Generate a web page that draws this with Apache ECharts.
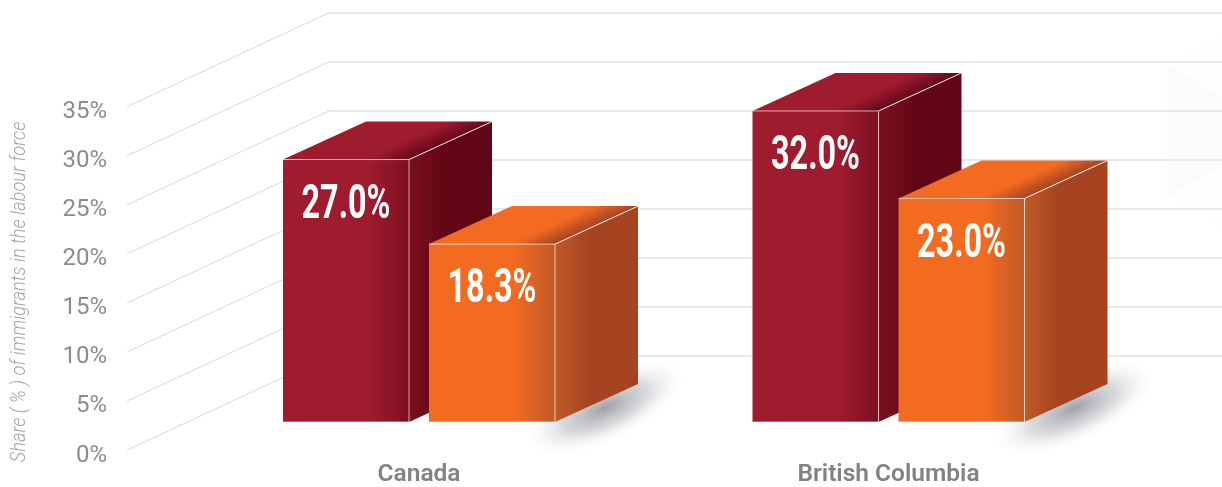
<!DOCTYPE html>
<html>
<head>
<meta charset="utf-8">
<style>html,body{margin:0;padding:0;background:#fff}#chart{width:1222px;height:487px}</style>
<script src="https://cdn.jsdelivr.net/npm/echarts@6/dist/echarts.min.js"></script>
</head>
<body>
<div id="chart"></div>
<script>
var categories = ['Canada', 'British Columbia'];
var redValues = [27.0, 32.0];
var orangeValues = [18.3, 23.0];
var tickValues = [0, 5, 10, 15, 20, 25, 30, 35];
var axisTitle = 'Share ( % ) of immigrants in the labour force';

var redColors = {
	front: '#9f1b2e', frontEnd: '#7c101f',
	sideStart: '#7c101f', sideEnd: '#620716',
	topStart: '#9f1b2e', topEnd: '#64091a'
};
var orangeColors = {
	front: '#f36a21', frontEnd: '#c05a27',
	sideStart: '#c05a27', sideEnd: '#a64421',
	topStart: '#f36a21', topEnd: '#a64421'
};

function grad(x2, y2, stops) {
	return { type: 'linear', x: 0, y: 0, x2: x2, y2: y2, colorStops: stops };
}

// 柱子: 阴影 + 侧面 + 顶面 + 正面
function barRenderer(colors, slot, hasShadow) {
	return function (params, api) {
		var idx = api.value(0);
		var val = api.value(1);
		var top = api.coord([idx, val]);
		var base = api.coord([idx, 0]);
		var w = 126, dx = 83, dy = 38;
		var x = top[0] - 136 + slot * 146;
		var y0 = top[1], y1 = base[1];
		var children = [];
		if (hasShadow) {
			// 径向渐变是圆的, 用 scaleX 拉成椭圆
			children.push({
				type: 'circle',
				x: x + w + 50,
				y: y1 - 14,
				rotation: 0.43,
				scaleX: 2.6,
				shape: { cx: 0, cy: 0, r: 35 },
				style: {
					fill: {
						type: 'radial', x: 0.5, y: 0.5, r: 0.5,
						colorStops: [
							{ offset: 0, color: 'rgba(135,137,143,0.8)' },
							{ offset: 0.5, color: 'rgba(170,172,178,0.45)' },
							{ offset: 1, color: 'rgba(255,255,255,0)' }
						]
					}
				}
			});
		}
		children.push({
			type: 'polygon',
			shape: { points: [[x + w, y0], [x + w + dx, y0 - dy], [x + w + dx, y1 - dy], [x + w, y1]] },
			style: { fill: grad(1, 0, [{ offset: 0, color: colors.sideStart }, { offset: 0.42, color: colors.sideEnd }, { offset: 1, color: colors.sideEnd }]) }
		});
		// 顶面渐变用画布坐标, 方向大致垂直于侧边
		children.push({
			type: 'polygon',
			shape: { points: [[x, y0], [x + dx, y0 - dy], [x + w + dx, y0 - dy], [x + w, y0]] },
			style: {
				fill: {
					type: 'linear', global: true,
					x: x + 165, y: y0 - 38, x2: x + 172.5, y2: y0 - 21.5,
					colorStops: [{ offset: 0, color: colors.topStart }, { offset: 1, color: colors.topEnd }]
				}
			}
		});
		children.push({
			type: 'rect',
			shape: { x: x, y: y0, width: w, height: y1 - y0 },
			style: { fill: grad(1, 0, [{ offset: 0, color: colors.front }, { offset: 0.68, color: colors.front }, { offset: 1, color: colors.frontEnd }]) }
		});
		// 白色描边
		children.push({
			type: 'polyline',
			shape: { points: [[x, y0], [x + w, y0], [x + w, y1], [x, y1]] },
			style: { fill: null, stroke: 'rgba(255,255,255,0.65)', lineWidth: 1 }
		});
		children.push({
			type: 'line',
			shape: { x1: x + w, y1: y0, x2: x + w + dx, y2: y0 - dy },
			style: { stroke: 'rgba(255,255,255,0.85)', lineWidth: 1 }
		});
		children.push({
			type: 'text',
			x: x + w / 2,
			y: y0 + 46,
			scaleX: 0.66,
			style: {
				text: val.toFixed(1) + '%',
				fill: '#fff',
				font: 'bold 49px Roboto',
				align: 'center',
				verticalAlign: 'middle'
			}
		});
		return { type: 'group', children: children };
	};
}

// 左侧斜线, 从后墙往前画
function wallRenderer(params, api) {
	var p = api.coord([0, api.value(0)]);
	return {
		type: 'line',
		shape: { x1: p[0], y1: p[1], x2: p[0] - 203, y2: p[1] + 94.4 },
		style: { stroke: '#d8d9da', lineWidth: 1 }
	};
}

var myChart = echarts.init(document.getElementById('chart'));
var option = {
	animation: false,
	grid: [
		{ left: 127, right: 0, top: 112.2, bottom: 31.5, outerBoundsMode: 'none' },
		{ left: 330, right: 0, top: 12.3, bottom: 131.3, outerBoundsMode: 'none' },
		{ left: 184.25, width: 939, top: 81.8, bottom: 65, outerBoundsMode: 'none' }
	],
	xAxis: [
		{ gridIndex: 0, type: 'value', min: 0, max: 1, show: false },
		{ gridIndex: 1, type: 'value', min: 0, max: 1, show: false },
		{
			gridIndex: 2, type: 'category', data: categories,
			axisLine: { show: false }, axisTick: { show: false },
			axisLabel: { margin: 53, color: '#808285', fontFamily: 'Roboto', fontWeight: 600, fontSize: 24.5, verticalAlign: 'middle' }
		}
	],
	yAxis: [
		{
			gridIndex: 0, type: 'value', min: 0, max: 35, interval: 5,
			axisLine: { show: false }, axisTick: { show: false }, splitLine: { show: false },
			axisLabel: {
				margin: 20, color: '#8a8c8f', fontFamily: 'Roboto', fontWeight: 400, fontSize: 24,
				formatter: '{value}%'
			}
		},
		{
			gridIndex: 1, type: 'value', min: 0, max: 35, interval: 5,
			axisLine: { show: false }, axisTick: { show: false }, axisLabel: { show: false },
			splitLine: { show: true, lineStyle: { color: '#e1e2e3', width: 1.5 } }
		},
		{
			gridIndex: 2, type: 'value', min: 0, max: 35, interval: 5,
			axisLine: { show: false }, axisTick: { show: false }, axisLabel: { show: false }, splitLine: { show: false }
		}
	],
	graphic: [
		{
			type: 'text', x: 20, y: 292, rotation: Math.PI / 2, scaleX: 0.87,
			style: {
				text: axisTitle, fill: '#a2a4a7',
				font: 'italic 300 21px Roboto', align: 'center', verticalAlign: 'middle'
			}
		},
		// 右侧很淡的背景图形
		{
			type: 'polygon', z: -1,
			shape: { points: [[1222, 33], [1175, 60], [1167, 65], [1167, 197], [1190, 208], [1222, 228]] },
			style: { fill: '#fefefe' }
		},
		{
			type: 'polygon', z: -1,
			shape: { points: [[1167, 65], [1222, 97], [1222, 165], [1167, 197]] },
			style: { fill: '#fbfbfb' }
		}
	],
	series: [
		{
			type: 'custom', xAxisIndex: 1, yAxisIndex: 1, silent: true,
			data: tickValues, encode: { y: 0 }, renderItem: wallRenderer, clip: false
		},
		{
			name: 'Red', type: 'custom', xAxisIndex: 2, yAxisIndex: 2, clip: false,
			data: redValues.map(function (v, i) { return [i, v]; }), encode: { x: 0, y: 1 },
			renderItem: barRenderer(redColors, 0, false)
		},
		{
			name: 'Orange', type: 'custom', xAxisIndex: 2, yAxisIndex: 2, clip: false,
			data: orangeValues.map(function (v, i) { return [i, v]; }), encode: { x: 0, y: 1 },
			renderItem: barRenderer(orangeColors, 1, true)
		}
	]
};
myChart.setOption(option);
</script>
</body>
</html>
